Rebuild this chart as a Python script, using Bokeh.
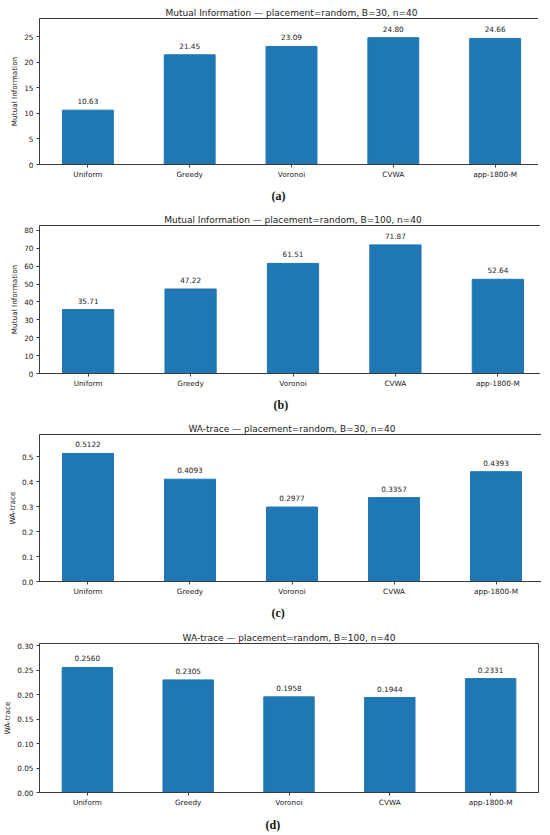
from bokeh.plotting import figure
from bokeh.models import Range1d, FixedTicker, PrintfTickFormatter, Title, ColumnDataSource
from bokeh.layouts import column
from bokeh.embed import file_html
from bokeh.resources import INLINE
from bokeh.core.properties import value

# ---------------- data ----------------
methods = ["Uniform", "Greedy", "Voronoi", "CVWA", "app-1800-M"]
mi_b30 = [10.63, 21.45, 23.09, 24.80, 24.66]
mi_b100 = [35.71, 47.22, 61.51, 71.87, 52.64]
wa_b30 = [0.5122, 0.4093, 0.2977, 0.3357, 0.4393]
wa_b100 = [0.2560, 0.2305, 0.1958, 0.1944, 0.2331]

titles = [
    "Mutual Information \u2014 placement=random, B=30, n=40",
    "Mutual Information \u2014 placement=random, B=100, n=40",
    "WA-trace \u2014 placement=random, B=30, n=40",
    "WA-trace \u2014 placement=random, B=100, n=40",
]
ylabels = ["Mutual Information", "Mutual Information", "WA-trace", "WA-trace"]
captions = ["(a)", "(b)", "(c)", "(d)"]
yticks_a = [0, 5, 10, 15, 20, 25]
yticks_b = [0, 10, 20, 30, 40, 50, 60, 70, 80]
yticks_c = [0.0, 0.1, 0.2, 0.3, 0.4, 0.5]
yticks_d = [0.00, 0.05, 0.10, 0.15, 0.20, 0.25, 0.30]
ytop = [28.55, 82.7, 0.588, 0.305]
decimals = [2, 2, 4, 4]
tick_fmt = ["%d", "%d", "%.1f", "%.2f"]

series = [mi_b30, mi_b100, wa_b30, wa_b100]
yticks = [yticks_a, yticks_b, yticks_c, yticks_d]

# ---------------- layout / style ----------------
FONT = "DejaVu Sans"
BLUE = "#1f77b4"
TOTAL_W = 534
layout = [
    dict(h=206, top=18, fh=146, left=28, fw=504, cap=32),
    dict(h=209, top=18, fh=148, left=26, fw=507, cap=32),
    dict(h=207, top=18, fh=147, left=28, fw=505, cap=32),
    dict(h=208, top=19, fh=149, left=34, fw=499, cap=34),
]

figs = []
for k in range(4):
    L = layout[k]
    vals = series[k]
    idx = list(range(len(methods)))
    labels = [f"{v:.{decimals[k]}f}" for v in vals]
    src = ColumnDataSource(dict(x=idx, top=vals, lab=labels))

    p = figure(
        frame_width=L["fw"], frame_height=L["fh"],
        min_border_left=L["left"], min_border_top=L["top"],
        min_border_right=TOTAL_W - L["left"] - L["fw"],
        min_border_bottom=L["h"] - L["top"] - L["fh"],
        x_range=Range1d(-0.475, len(methods) - 1 + 0.475),
        y_range=Range1d(0, ytop[k]),
        output_backend="svg", toolbar_location=None,
    )
    p.title.text = titles[k]
    p.title.align = "center"
    p.title.text_font = FONT
    p.title.text_font_size = "9px"
    p.title.text_font_style = "normal"
    p.title.text_color = "#222222"
    p.title.standoff = 2

    p.background_fill_color = "white"
    p.border_fill_color = "white"
    p.outline_line_color = "#3a3a3a"
    p.outline_line_width = 1
    p.xgrid.visible = False
    p.ygrid.visible = False

    p.vbar(x="x", top="top", width=0.5, source=src,
           fill_color=BLUE, line_color=BLUE)
    p.text(x="x", y="top", text="lab", source=src,
           text_font=value(FONT), text_font_size="7.3px",
           text_align="center", text_baseline="middle",
           y_offset=-9, text_color="#222222")

    # x axis
    xa = p.xaxis[0]
    xa.ticker = FixedTicker(ticks=idx)
    xa.major_label_overrides = {i: m for i, m in enumerate(methods)}
    # y axis
    ya = p.yaxis[0]
    ya.ticker = FixedTicker(ticks=yticks[k])
    ya.formatter = PrintfTickFormatter(format=tick_fmt[k])
    ya.axis_label = ylabels[k]

    for ax in (xa, ya):
        ax.minor_tick_line_color = None
        ax.major_tick_in = 0
        ax.major_tick_out = 3
        ax.axis_line_color = "#3a3a3a"
        ax.major_tick_line_color = "#3a3a3a"
        ax.major_label_text_font = FONT
        ax.major_label_text_font_size = "7.3px"
        ax.major_label_text_color = "#222222"
        ax.axis_label_text_font = FONT
        ax.axis_label_text_font_size = "7.3px"
        ax.axis_label_text_font_style = "normal"
        ax.axis_label_text_color = "#222222"
    xa.major_label_standoff = 2
    ya.major_label_standoff = 3
    ya.axis_label_standoff = 2

    # caption below the axis
    cap = Title(text=captions[k], align="left", offset=260 - L["left"],
                standoff=L["cap"] - 22,
                text_font="Liberation Serif", text_font_size="12px",
                text_font_style="bold", text_color="#111111")
    p.add_layout(cap, "below")
    figs.append(p)

page = column(*figs, spacing=0)
open("out.html", "w").write(file_html(page, INLINE))
